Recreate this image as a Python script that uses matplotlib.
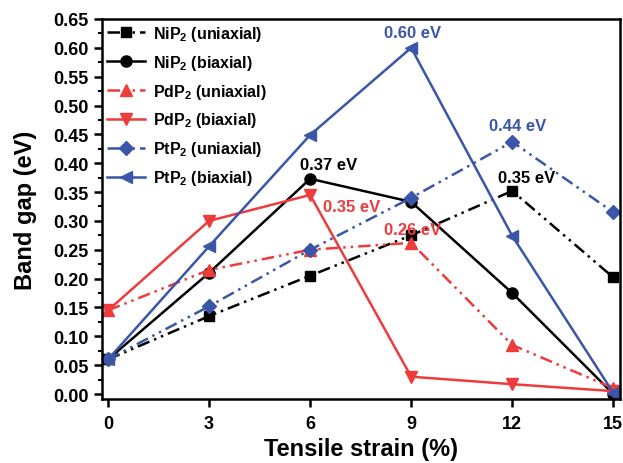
import matplotlib
matplotlib.use('Agg')
import matplotlib.pyplot as plt
from matplotlib.ticker import MultipleLocator

plt.rcParams['font.family'] = 'Liberation Sans'
plt.rcParams['font.weight'] = 'bold'
plt.rcParams['mathtext.fontset'] = 'custom'
plt.rcParams['mathtext.rm'] = 'Liberation Sans:bold'
plt.rcParams['mathtext.default'] = 'rm'

strain = [0, 3, 6, 9, 12, 15]

nip2_uni = [0.06, 0.135, 0.205, 0.275, 0.352, 0.202]
nip2_bi = [0.06, 0.21, 0.373, 0.333, 0.175, 0.0]
pdp2_uni = [0.145, 0.215, 0.25, 0.262, 0.085, 0.01]
pdp2_bi = [0.145, 0.30, 0.345, 0.03, 0.017, 0.005]
ptp2_uni = [0.06, 0.152, 0.25, 0.34, 0.437, 0.315]
ptp2_bi = [0.06, 0.256, 0.449, 0.60, 0.274, 0.002]

red = '#ee3b3b'
blue = '#3a56a8'
dashdotdot = (0, (5, 2, 1, 2, 1, 2))

fig = plt.figure(figsize=(6.23, 4.64), dpi=100)
ax = fig.add_axes([0.1637, 0.138, 0.8315, 0.819])

kw = dict(lw=1.8, ms=8, clip_on=False)
ax.plot(strain, nip2_uni, color='black', marker='s', ls=dashdotdot, ms=7, lw=1.8,
        clip_on=False, label='NiP$_2$ (uniaxial)')
ax.plot(strain, nip2_bi, color='black', marker='o', ls='-', label='NiP$_2$ (biaxial)', **kw)
ax.plot(strain, pdp2_uni, color=red, marker='^', ls=dashdotdot, label='PdP$_2$ (uniaxial)', **kw)
ax.plot(strain, pdp2_bi, color=red, marker='v', ls='-', label='PdP$_2$ (biaxial)', **kw)
ax.plot(strain, ptp2_uni, color=blue, marker='D', ls=dashdotdot, ms=7, lw=1.8,
        clip_on=False, label='PtP$_2$ (uniaxial)')
ax.plot(strain, ptp2_bi, color=blue, marker='<', ls='-', label='PtP$_2$ (biaxial)', **kw)

tkw = dict(fontsize=12, fontweight='bold', ha='center', va='center')
ax.text(9.03, 0.627, '0.60 eV', color=blue, **tkw)
ax.text(12.15, 0.465, '0.44 eV', color=blue, **tkw)
ax.text(12.44, 0.375, '0.35 eV', color='black', **tkw)
ax.text(6.56, 0.398, '0.37 eV', color='black', **tkw)
ax.text(7.22, 0.325, '0.35 eV', color=red, **tkw)
ax.text(9.03, 0.285, '0.26 eV', color=red, **tkw)

ax.set_xlim(-0.18, 15.2)
ax.set_ylim(-0.0086, 0.65)
ax.set_xticks(strain)
ax.yaxis.set_major_locator(MultipleLocator(0.05))
ax.yaxis.set_minor_locator(MultipleLocator(0.025))
ax.yaxis.set_major_formatter(matplotlib.ticker.FormatStrFormatter('%.2f'))
ax.tick_params(which='major', direction='out', length=5.5, width=1.8, labelsize=13, pad=4)
ax.tick_params(axis='x', which='major', pad=6)
ax.tick_params(which='minor', direction='out', length=3, width=1.5)
for s in ax.spines.values():
    s.set_linewidth(1.8)

ax.set_xlabel('Tensile strain (%)', fontsize=17, fontweight='bold', labelpad=4)
ax.set_ylabel('Band gap (eV)', fontsize=17, fontweight='bold', labelpad=12)

ax.legend(loc='upper left', frameon=False, fontsize=11.5, handlelength=2.4,
          labelspacing=0.62, borderaxespad=0.1, handletextpad=0.5,
          borderpad=0.2)

fig.savefig('out.png', dpi=100)
